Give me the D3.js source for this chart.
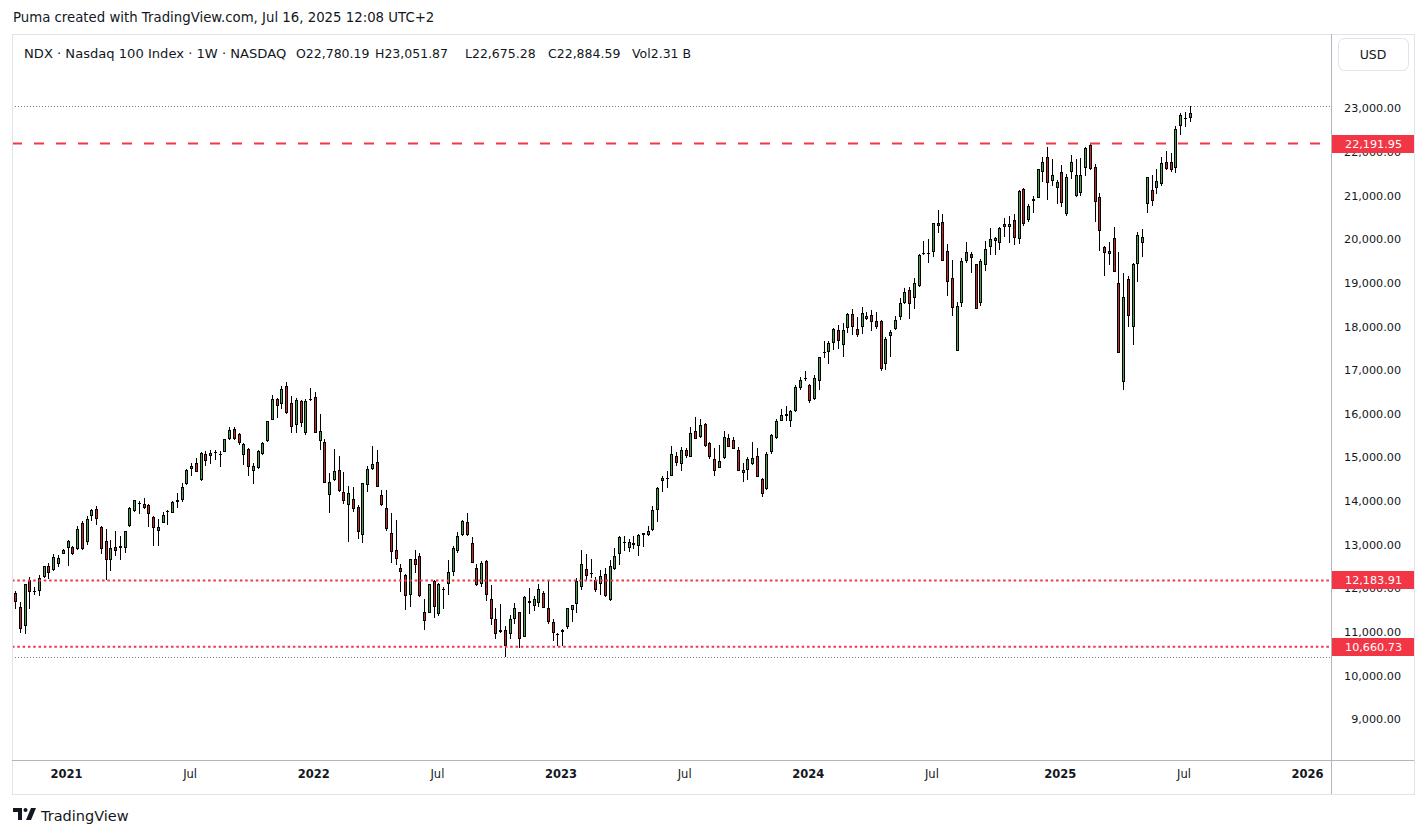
<!DOCTYPE html>
<html>
<head>
<meta charset="utf-8">
<script src="https://cdn.jsdelivr.net/npm/d3@7"></script>
<style>
  body { margin: 0; background: #fff; }
  svg text { font-family: "DejaVu Sans", Roboto, sans-serif; fill: #131722; }
</style>
</head>
<body>
<div id="chart"></div>
<script>
// weekly NDX bars, [open, high, low, close]
var bars2020 = [
  [11900,11950,11530,11690],[11580,11680,10980,11060],[11130,12110,10960,12090],[12190,12270,11530,11920],
  [11950,12030,11840,11920],[11940,12300,11820,12240],[12260,12520,12240,12510],[12510,12590,12220,12360],
  [12420,12790,12390,12720],[12560,12760,12480,12700],[12790,12910,12780,12880]
];
var bars2021 = [
  [12930,13120,12520,13080],[12950,12980,12770,12790],[12910,13440,12870,13360],[13500,13540,12890,12910],
  [13070,13670,13000,13590],[13650,13810,13540,13790],[13820,13880,13460,13580],[13410,13440,12780,12910],
  [13080,13350,12200,12660],[12650,13120,12400,12930],[12940,13310,12740,12850],[12930,13190,12660,12980],
  [12930,13320,12800,13310],[13420,13860,13410,13840],[13780,14030,13750,14030],[13930,14010,13710,13960],
  [13940,14060,13830,13840],[13900,13940,13400,13710],[13640,13650,12970,13390],[13310,13580,12980,13410],
  [13500,13750,13490,13690],[13760,13790,13460,13780],[13730,14000,13720,13990],[13980,14190,13840,14030],
  [14030,14420,13970,14320],[14390,14740,14380,14720],[14740,14870,14570,14810],[14870,14990,14660,14670],
  [14490,15120,14450,15100],[15080,15140,14800,14930],[15030,15180,14860,15100],[15110,15160,14950,15130],
  [15090,15140,14770,15070],[15130,15430,15120,15420],[15430,15700,15410,15640],[15660,15700,15410,15420],
  [15540,15550,15290,15330],[15050,15320,14820,15310],[15200,15220,14570,14770],[14680,14870,14390,14810],
  [14760,15160,14740,15140],[15080,15350,15060,15340],[15380,15840,15350,15830],[15860,16440,15850,16340],
  [16340,16360,15900,16190],[16220,16630,16110,16570],[16640,16740,16000,16020],[16250,16400,15560,15700],
  [15750,16360,15560,16320],[16300,16320,15700,15790],[15560,16340,15510,16300],[16340,16590,16290,16310]
];
var bars2022 = [
  [16390,16500,15560,15570],[15370,16000,15180,15610],[15350,15420,14410,14420],[14140,14650,13730,14430],
  [14490,15190,14470,14700],[14720,15040,14210,14240],[14210,14660,13940,14010],[13900,14340,13060,14190],
  [14050,14330,13740,13820],[13860,13900,13130,13290],[13230,14420,13040,14420],[14380,14810,14220,14740],
  [14740,15270,14720,14850],[14900,15160,14320,14330],[14130,14260,13890,13900],[13840,14260,13320,13350],
  [13270,13730,12590,12830],[12870,13560,12530,12680],[12460,12550,11920,12380],[12300,12340,11500,11820],
  [11840,12680,11570,12680],[12680,12890,12360,12530],[12750,12800,11810,11820],[11460,11750,11040,11250],
  [11440,12110,11430,12100],[12160,12200,11330,11580],[11420,12130,11360,12110],[11990,12040,11520,11970],
  [12090,12660,11860,12380],[12370,12980,12290,12930],[12850,13290,12810,13210],[13220,13560,13210,13540],
  [13520,13720,13210,13220],[13040,13170,12580,12590],[12460,12550,12050,12070],[12090,12620,12040,12590],
  [12620,12640,11710,11840],[11750,12070,11170,11300],[11290,11540,10850,10960],[10990,11650,10980,11040],
  [11040,11150,10440,10680],[10960,11400,10850,11310],[11310,11670,11190,11540],[11460,11470,10640,10850],
  [10890,11820,10880,11810],[11720,12010,11420,11670],[11590,11820,11490,11750],[11670,12110,11570,11990],
  [11900,11950,11550,11560],[11560,12160,11190,11230],[11230,11290,10790,10980],[10950,10980,10680,10940]
];
var bars2023 = [
  [11010,11080,10680,11040],[11110,11560,11070,11540],[11500,11630,11230,11610],[11650,12230,11440,12160],
  [12040,12870,11970,12570],[12450,12780,12200,12280],[12360,12680,12230,12350],[12190,12270,11910,11960],
  [12100,12430,11840,12280],[12330,12460,11800,11820],[11730,12660,11710,12520],[12450,12930,12420,12750],
  [12790,13190,12530,13180],[13070,13210,12850,13060],[12930,13130,12830,13070],[13040,13190,12910,12990],
  [12970,13240,12740,13230],[13220,13270,12950,13260],[13220,13420,13190,13320],[13330,13880,13320,13800],
  [13800,14330,13510,14290],[14450,14580,14220,14530],[14530,14680,14290,14540],[14580,15270,14570,15090],
  [15040,15130,14810,14870],[14850,15230,14680,15180],[15180,15220,14990,15030],[15010,15700,15000,15560],
  [15610,15930,15420,15420],[15470,15870,15450,15750],[15770,15790,15250,15260],[15330,15350,14970,15010],
  [14970,15220,14570,14680],[14760,15280,14750,14930],[14990,15600,14960,15480],[15450,15540,15240,15250],
  [15410,15470,15190,15190],[15160,15230,14680,14680],[14650,14870,14430,14720],[14720,15010,14490,14970],
  [14850,15350,14820,14990],[15040,15220,14550,14550],[14510,14520,14100,14160],[14280,15120,14260,15090],
  [15130,15540,15080,15520],[15450,15880,15420,15840],[15840,16120,15830,15980],[15940,16170,15830,16000],
  [15830,16090,15700,16070],[16060,16650,16050,16610],[16600,16840,16550,16780],[16810,16970,16760,16820]
];
var bars2024 = [
  [16670,16680,16250,16300],[16340,16900,16320,16820],[16760,17310,16550,17300],[17410,17660,17290,17420],
  [17410,17670,17140,17620],[17620,17960,17470,17940],[17910,18040,17480,17660],[17580,18080,17310,17910],
  [17960,18310,17850,18280],[18280,18400,17800,18000],[17940,18220,17770,17800],[18000,18440,17830,18320],
  [18180,18340,18140,18250],[18270,18380,17890,18100],[18130,18330,17940,17990],[18130,18160,16990,17030],
  [17140,17770,17010,17710],[17790,17930,17300,17870],[17940,18250,17930,18150],[18220,18650,18140,18540],
  [18540,18880,18520,18790],[18840,18900,18180,18510],[18650,19110,18400,18990],[18920,19660,18900,19640],
  [19680,19970,19640,19690],[19660,20000,19460,19680],[19700,20380,19590,20370],[20370,20670,20150,20310],
  [20390,20580,19490,19500],[19720,19890,18710,19020],[19110,19530,18250,18420],[17440,18570,17430,18470],
  [18540,19570,18440,19500],[19490,19930,19450,19700],[19660,19700,19220,19570],[19430,19440,18390,18400],
  [18550,19540,18460,19500],[19410,19950,19280,19780],[19830,20250,19630,20000],[19950,20050,19630,20020],
  [19920,20290,19760,20250],[20350,20480,20050,20290],[20270,20530,19920,20350],[20440,20580,19870,20020],
  [20000,21130,19890,21110],[21150,21170,20310,20350],[20430,20800,20390,20750],[20880,20990,20610,20930],
  [20950,21610,20940,21600],[21550,21880,21320,21760],[21880,22120,20900,21280],[21340,21840,21230,21470],
  [21170,21360,20800,21320]
];
var bars2025 = [
  [21530,21700,20730,20830],[20570,21500,20540,21420],[21530,21930,21380,21760],[20980,21830,20970,21460],
  [21070,21860,21000,21460],[21640,22120,21450,22100],[22160,22200,21590,21600],[21650,21720,20400,20860],
  [20960,21050,19740,20180],[19820,19850,19150,19680],[19660,19930,19400,19740],[20020,20280,19240,19260],
  [18990,19700,17390,17390],[16740,19220,16550,18670],[19090,19150,18000,18230],[18000,19450,17580,19430],
  [19430,20160,19010,20100],[19910,20240,19600,20060],[20800,21430,20610,21420],[21130,21470,20760,20880],
  [21180,21600,21030,21340],[21260,21880,21210,21740],[21760,22020,21590,21610],[21760,21970,21550,21590],
  [21630,22590,21520,22520],[22600,22890,22390,22850],[22760,22910,22580,22780],[22780.19,23051.87,22675.28,22884.59]
];

var firstWeek = Date.UTC(2020, 9, 19);
var priceTicks = [9000, 10000, 11000, 12000, 13000, 14000, 15000, 16000, 17000, 18000, 19000, 20000, 21000, 22000, 23000];
var timeLabels = ["2021", "Jul", "2022", "Jul", "2023", "Jul", "2024", "Jul", "2025", "Jul", "2026"];
var timeDates = [[2021,0,4],[2021,6,5],[2022,0,3],[2022,6,4],[2023,0,2],[2023,6,3],[2024,0,1],[2024,6,1],[2025,0,6],[2025,6,7],[2026,0,5]];
var levelLines = [22191.95, 12183.91, 10660.73];
var levelStyle = ["10,12", "2.5,2.8", "2.5,2.8"];

var bars = [].concat(bars2020, bars2021, bars2022, bars2023, bars2024, bars2025).map(function(b, i) {
  return { date: new Date(firstWeek + i * 7 * 864e5), o: b[0], h: b[1], l: b[2], c: b[3] };
});

var svgWidth = 1426, svgHeight = 837;
var pane = { left: 12, right: 1331, top: 34, bottom: 760 };
var axisRight = 1414, axisBottom = 794;

var svg = d3.select("#chart").append("svg")
  .attr("width", svgWidth)
  .attr("height", svgHeight);

var x = d3.scaleUtc()
  .domain([bars[0].date, bars[bars.length - 1].date])
  .range([15.2, 1189.7]);

var hiBar = d3.max(bars, d => d.h), loBar = d3.min(bars, d => d.l);
var y = d3.scaleLinear()
  .domain([loBar, hiBar])
  .range([656.5, 106]);

// frame
svg.append("rect")
  .attr("x", pane.left + 0.5).attr("y", pane.top + 0.5)
  .attr("width", axisRight - pane.left).attr("height", axisBottom - pane.top)
  .attr("fill", "none").attr("stroke", "#e0e3eb");
svg.append("line")
  .attr("x1", pane.right + 0.5).attr("x2", pane.right + 0.5)
  .attr("y1", pane.top).attr("y2", axisBottom)
  .attr("stroke", "#b2b5be");
svg.append("line")
  .attr("x1", pane.left).attr("x2", axisRight)
  .attr("y1", pane.bottom + 0.5).attr("y2", pane.bottom + 0.5)
  .attr("stroke", "#b2b5be");

var plot = svg.append("g");
svg.append("clipPath").attr("id", "clip")
  .append("rect").attr("x", pane.left + 1).attr("y", pane.top + 1)
  .attr("width", pane.right - pane.left - 1).attr("height", pane.bottom - pane.top - 1);
plot.attr("clip-path", "url(#clip)");

// high / low of the visible range
[hiBar, loBar].forEach(function(v) {
  plot.append("line")
    .attr("x1", pane.left).attr("x2", pane.right)
    .attr("y1", Math.round(y(v)) + 0.5).attr("y2", Math.round(y(v)) + 0.5)
    .attr("stroke", "#787b86").attr("stroke-dasharray", "1,2");
});

// candles
var candle = plot.selectAll("g.candle")
  .data(bars)
  .enter()
  .append("g")
  .attr("class", "candle")
  .attr("shape-rendering", "crispEdges");

candle.append("rect")
  .attr("x", d => Math.round(x(d.date)))
  .attr("y", d => Math.round(y(d.h)))
  .attr("width", 1)
  .attr("height", d => Math.max(1, Math.round(y(d.l)) - Math.round(y(d.h))))
  .attr("fill", "#000");

candle.append("rect")
  .attr("x", d => Math.round(x(d.date)) - 1)
  .attr("y", d => Math.round(y(Math.max(d.o, d.c))))
  .attr("width", 3)
  .attr("height", d => Math.max(1, Math.round(y(Math.min(d.o, d.c))) - Math.round(y(Math.max(d.o, d.c)))))
  .attr("fill", "#000");

candle.append("rect")
  .attr("x", d => Math.round(x(d.date)))
  .attr("y", d => Math.round(y(Math.max(d.o, d.c))) + 1)
  .attr("width", 1)
  .attr("height", d => Math.max(0, Math.round(y(Math.min(d.o, d.c))) - Math.round(y(Math.max(d.o, d.c))) - 2))
  .attr("fill", d => d.c >= d.o ? "#43a047" : "#c62828");

// horizontal levels
levelLines.forEach(function(v, i) {
  plot.append("line")
    .attr("x1", pane.left).attr("x2", pane.right)
    .attr("y1", y(v)).attr("y2", y(v))
    .attr("stroke", "#f23645").attr("stroke-width", 2)
    .attr("stroke-dasharray", levelStyle[i]);
});

// price axis
var fmt = d3.format(",.2f");
var pAxis = svg.append("g");
pAxis.selectAll("text")
  .data(priceTicks)
  .enter()
  .append("text")
  .attr("x", 1401)
  .attr("y", d => y(d) + 4)
  .attr("text-anchor", "end")
  .attr("font-size", 11.2)
  .text(d => fmt(d));

levelLines.forEach(function(v) {
  var g = svg.append("g").attr("transform", `translate(${pane.right + 1}, ${Math.round(y(v))})`);
  g.append("rect").attr("x", 0).attr("y", -9).attr("width", axisRight - pane.right - 1).attr("height", 18)
    .attr("fill", "#f23645");
  g.append("text").attr("x", 70).attr("y", 4).attr("text-anchor", "end")
    .attr("font-size", 11.2).style("fill", "#fff").text(fmt(v));
});

// currency button
svg.append("rect")
  .attr("x", 1338.5).attr("y", 38.5).attr("width", 70).attr("height", 32).attr("rx", 6)
  .attr("fill", "#fff").attr("stroke", "#e0e3eb");
svg.append("text").attr("x", 1373).attr("y", 59).attr("font-size", 12.5)
  .attr("text-anchor", "middle").text("USD");

// time axis
var tAxis = svg.append("g");
tAxis.selectAll("text")
  .data(timeLabels)
  .enter()
  .append("text")
  .attr("x", (d, i) => x(new Date(Date.UTC(timeDates[i][0], timeDates[i][1], timeDates[i][2]))) - 1)
  .attr("y", 778)
  .attr("text-anchor", "middle")
  .attr("font-size", 11.5)
  .attr("font-weight", d => d === "Jul" ? "normal" : "bold")
  .text(d => d);

// legend
var last = bars[bars.length - 1];
var legendItems = [
  ["NDX · Nasdaq 100 Index · 1W · NASDAQ", 24, 13.1],
  ["O" + fmt(last.o), 296, 12.5], ["H" + fmt(last.h), 375, 12.5], ["L" + fmt(last.l), 465, 12.5],
  ["C" + fmt(last.c), 548, 12.5], ["Vol2.31 B", 632, 12.5]
];
svg.append("g").selectAll("text")
  .data(legendItems)
  .enter()
  .append("text")
  .attr("x", d => d[1])
  .attr("y", 58)
  .attr("font-size", d => d[2])
  .text(d => d[0]);

// title and footer
svg.append("text").attr("x", 13).attr("y", 22).attr("font-size", 13.3)
  .text("Puma created with TradingView.com, Jul 16, 2025 12:08 UTC+2");

var logo = svg.append("g").attr("transform", "translate(13, 808)");
logo.append("path").attr("d", "M0 0 H9 V12 H5 V4 H0 Z").attr("fill", "#131722");
logo.append("circle").attr("cx", 12.5).attr("cy", 2).attr("r", 2).attr("fill", "#131722");
logo.append("path").attr("d", "M13 12 L18 0 H23 L18 12 Z").attr("fill", "#131722");
svg.append("text").attr("x", 41).attr("y", 821).attr("font-size", 14.5).text("TradingView");
</script>
</body>
</html>
